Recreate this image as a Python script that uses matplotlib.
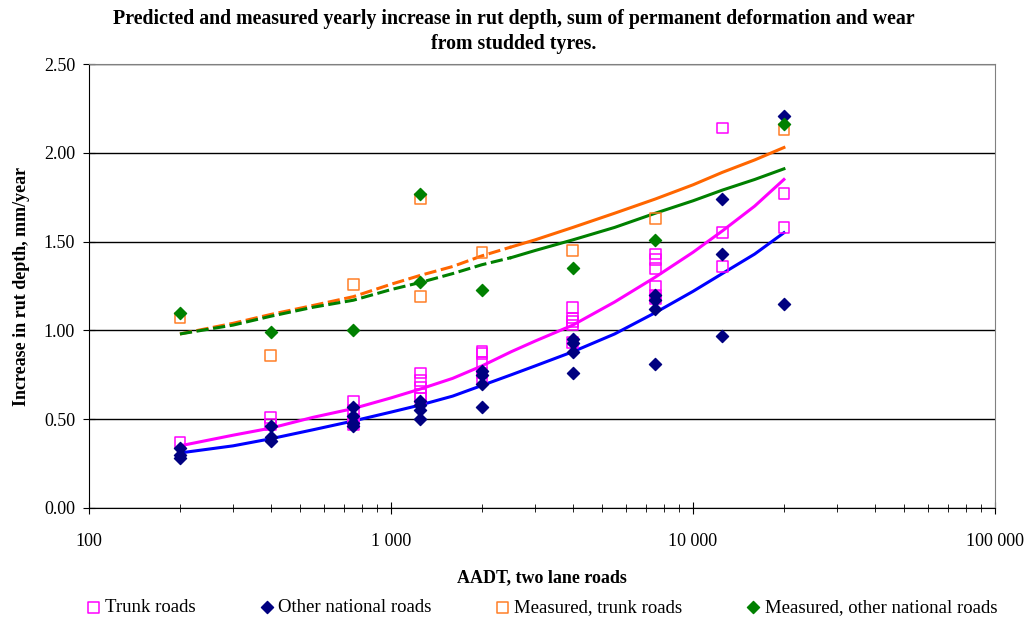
import matplotlib
matplotlib.use("Agg")
import matplotlib.pyplot as plt
from matplotlib.ticker import FixedLocator, LogLocator, NullFormatter

plt.rcParams["font.family"] = ["Liberation Serif", "DejaVu Serif"]

# Measured points per AADT class
trunk_x = [200, 400, 400, 750, 750, 750, 750, 1250, 1250, 1250, 1250, 1250,
           2000, 2000, 2000, 2000, 2000, 4000, 4000, 4000, 4000, 4000,
           7500, 7500, 7500, 7500, 7500, 7500, 12500, 12500, 12500, 20000, 20000]
trunk_y = [0.37, 0.51, 0.47, 0.60, 0.55, 0.50, 0.47, 0.76, 0.72, 0.68, 0.64, 0.62,
           0.88, 0.87, 0.82, 0.76, 0.73, 1.13, 1.07, 1.05, 1.03, 0.93,
           1.43, 1.40, 1.35, 1.25, 1.20, 1.18, 2.14, 1.55, 1.36, 1.77, 1.58]

other_x = [200, 200, 200, 400, 400, 400, 750, 750, 750, 750, 1250, 1250, 1250, 1250,
           2000, 2000, 2000, 2000, 4000, 4000, 4000, 4000, 7500, 7500, 7500, 7500,
           12500, 12500, 12500, 20000, 20000]
other_y = [0.34, 0.30, 0.28, 0.46, 0.40, 0.38, 0.57, 0.52, 0.48, 0.46, 0.60, 0.58, 0.55, 0.50,
           0.77, 0.75, 0.70, 0.57, 0.95, 0.93, 0.88, 0.76, 1.20, 1.17, 1.12, 0.81,
           1.74, 1.43, 0.97, 2.21, 1.15]

meas_trunk_x = [200, 400, 750, 1250, 1250, 2000, 4000, 7500, 20000]
meas_trunk_y = [1.07, 0.86, 1.26, 1.74, 1.19, 1.44, 1.45, 1.63, 2.13]

meas_other_x = [200, 400, 750, 1250, 1250, 2000, 4000, 7500, 20000]
meas_other_y = [1.10, 0.99, 1.00, 1.77, 1.27, 1.23, 1.35, 1.51, 2.16]

# Predicted curves
curve_x = [200, 300, 400, 550, 750, 1000, 1250, 1600, 2000, 2500, 3000, 4000,
           5500, 7500, 10000, 12500, 16000, 20000]
pred_trunk = [0.35, 0.41, 0.45, 0.51, 0.56, 0.62, 0.67, 0.73, 0.80, 0.88, 0.94, 1.03,
              1.16, 1.30, 1.44, 1.56, 1.70, 1.85]
pred_other = [0.31, 0.35, 0.39, 0.44, 0.49, 0.54, 0.58, 0.63, 0.69, 0.75, 0.80, 0.88,
              0.98, 1.10, 1.22, 1.32, 1.43, 1.55]
pred_meas_trunk = [0.98, 1.04, 1.09, 1.14, 1.19, 1.26, 1.31, 1.36, 1.42, 1.47, 1.51, 1.58,
                   1.66, 1.74, 1.82, 1.89, 1.96, 2.03]
pred_meas_other = [0.98, 1.03, 1.08, 1.13, 1.17, 1.23, 1.27, 1.32, 1.37, 1.41, 1.45, 1.51,
                   1.58, 1.66, 1.73, 1.79, 1.85, 1.91]
split = 10  # dashed up to 2500

fig = plt.figure(figsize=(10.28, 6.22), dpi=100)
ax = fig.add_axes([0.0866, 0.1833, 0.8813, 0.7137])

ax.plot(curve_x, pred_trunk, color="#ff00ff", lw=2.2)
ax.plot(curve_x, pred_other, color="#0000ff", lw=2.2)
for ys, c in [(pred_meas_trunk, "#ff6600"), (pred_meas_other, "#008000")]:
    ax.plot(curve_x[:split], ys[:split], color=c, lw=2.2, ls=(0, (4, 1.5)))
    ax.plot(curve_x[split - 1:], ys[split - 1:], color=c, lw=2.2)

ax.scatter(trunk_x, trunk_y, marker="s", s=60, facecolors="none", edgecolors="#ff00ff",
           linewidths=1.1, label="Trunk roads", zorder=3)
ax.scatter(other_x, other_y, marker="D", s=38, color="#000080", label="Other national roads", zorder=3)
ax.scatter(meas_trunk_x, meas_trunk_y, marker="s", s=60, facecolors="none", edgecolors="#ff7f27",
           linewidths=1.1, label="Measured, trunk roads", zorder=3)
ax.scatter(meas_other_x, meas_other_y, marker="D", s=38, color="#008000",
           label="Measured, other national roads", zorder=3)

ax.set_xscale("log")
ax.set_xlim(100, 100000)
ax.set_ylim(0, 2.5)
ax.xaxis.set_major_locator(FixedLocator([100, 1000, 10000, 100000]))
ax.set_xticklabels(["100", "1 000", "10 000", "100 000"])
ax.xaxis.set_minor_locator(LogLocator(base=10, subs=range(2, 10)))
ax.xaxis.set_minor_formatter(NullFormatter())
ax.set_yticks([0, 0.5, 1.0, 1.5, 2.0, 2.5])
ax.set_yticklabels([f"{v:.2f}" for v in [0, 0.5, 1.0, 1.5, 2.0, 2.5]])
ax.tick_params(axis="both", which="major", direction="inout", length=8, labelsize=13, pad=6)
ax.tick_params(axis="x", which="major", pad=14)
ax.tick_params(axis="x", which="minor", direction="inout", length=6)
ax.yaxis.grid(True, color="black", lw=1)
ax.set_axisbelow(True)
for side in ["top", "right"]:
    ax.spines[side].set_color("#808080")

ax.set_xlabel("AADT, two lane roads", fontsize=13, fontweight="bold", labelpad=14)
ax.set_ylabel("Increase in rut depth, mm/year", fontsize=13, fontweight="bold", labelpad=10)
fig.suptitle("Predicted and measured yearly increase in rut depth, sum of permanent deformation and wear\nfrom studded tyres.",
             fontsize=14.3, fontweight="bold", y=0.985, linespacing=1.3)

fig.legend(loc="lower center", bbox_to_anchor=(0.526, -0.018), ncol=4, frameon=False, fontsize=13.5,
           handletextpad=0.1, columnspacing=3.3, handlelength=1.0)

fig.savefig("out.png", dpi=100)
